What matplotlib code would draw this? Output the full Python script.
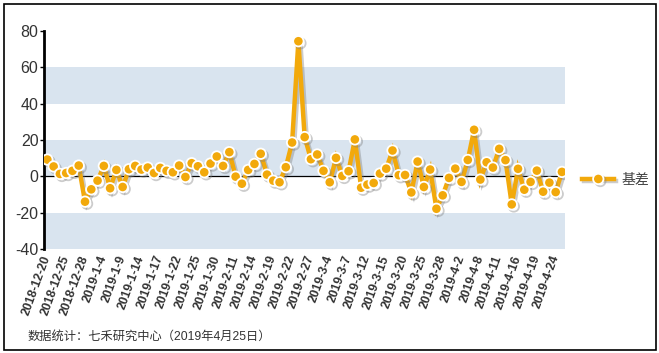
import matplotlib
matplotlib.use('Agg')
import matplotlib.pyplot as plt
import matplotlib.patheffects as pe
from matplotlib.patches import Rectangle

plt.rcParams['font.family'] = ['Liberation Sans', 'Noto Sans CJK SC']

dates = ['2018-12-20', '2018-12-21', '2018-12-24', '2018-12-25', '2018-12-26', '2018-12-27', '2018-12-28',
         '2019-1-2', '2019-1-3', '2019-1-4', '2019-1-7', '2019-1-8', '2019-1-9', '2019-1-10', '2019-1-11',
         '2019-1-14', '2019-1-15', '2019-1-16', '2019-1-17', '2019-1-18', '2019-1-21', '2019-1-22',
         '2019-1-23', '2019-1-24', '2019-1-25', '2019-1-28', '2019-1-29', '2019-1-30', '2019-1-31',
         '2019-2-1', '2019-2-11', '2019-2-12', '2019-2-13', '2019-2-14', '2019-2-15', '2019-2-18',
         '2019-2-19', '2019-2-20', '2019-2-21', '2019-2-22', '2019-2-25', '2019-2-26', '2019-2-27',
         '2019-2-28', '2019-3-1', '2019-3-4', '2019-3-5', '2019-3-6', '2019-3-7', '2019-3-8',
         '2019-3-11', '2019-3-12', '2019-3-13', '2019-3-14', '2019-3-15', '2019-3-18', '2019-3-19',
         '2019-3-20', '2019-3-21', '2019-3-22', '2019-3-25', '2019-3-26', '2019-3-27', '2019-3-28',
         '2019-3-29', '2019-4-1', '2019-4-2', '2019-4-3', '2019-4-4', '2019-4-8', '2019-4-9',
         '2019-4-10', '2019-4-11', '2019-4-12', '2019-4-15', '2019-4-16', '2019-4-17', '2019-4-18',
         '2019-4-19', '2019-4-22', '2019-4-23', '2019-4-24', '2019-4-25']

basis = [9.2, 5.4, 1.3, 1.8, 3.0, 5.9, -14.0, -7.2, -2.4, 5.7, -6.6, 3.5, -5.9, 3.9, 5.7,
         3.7, 4.8, 1.8, 4.6, 3.0, 2.2, 5.9, -0.4, 7.2, 5.5, 2.2, 7.0, 10.9, 5.7,
         13.3, -0.2, -4.1, 3.5, 6.8, 12.4, 0.9, -2.4, -3.3, 5.0, 18.6, 74.4, 21.6, 9.4,
         12.0, 3.0, -3.3, 10.1, 0.2, 2.8, 20.3, -6.3, -4.6, -3.7, 1.5, 4.2, 14.2, 0.6,
         0.7, -8.9, 8.1, -5.9, 3.7, -17.9, -10.5, -0.9, 4.2, -3.1, 9.0, 25.6, -1.8, 7.7,
         4.8, 15.1, 8.9, -15.5, 4.1, -7.4, -3.1, 3.1, -8.5, -3.5, -8.7, 2.4]

yticks = [-40, -20, 0, 20, 40, 60, 80]
bands = [(-40, -20), (0, 20), (40, 60)]

orange = '#F2A90B'
x = list(range(len(basis)))

fig = plt.figure(figsize=(6.59, 3.53), dpi=100)
ax = fig.add_axes([0.0668, 0.295, 0.7905, 0.617])

for lo, hi in bands:
    ax.axhspan(lo, hi, color='#D9E4EF', lw=0, zorder=0)
ax.axhline(0, color='black', lw=0.9, zorder=1)

ax.plot(x, basis, color=orange, lw=3.2, marker='o', markersize=7.5,
        markerfacecolor=orange, markeredgecolor='white', markeredgewidth=1.3,
        label='基差', zorder=3, solid_joinstyle='miter',
        path_effects=[pe.SimpleLineShadow(offset=(1.5, -1.5), shadow_color='gray', alpha=0.4),
                      pe.Normal()])

ax.set_xlim(-0.53, len(basis) - 0.52)
ax.set_ylim(-40, 80)
ax.set_yticks(yticks)
ax.set_yticklabels([str(v) for v in yticks], fontsize=11.5, color='#333333')
ax.tick_params(axis='y', length=3, width=1, pad=1, colors='black', labelcolor='#333333')

ax.set_xticks(x[::3])
ax.set_xticklabels(dates[::3], fontsize=8.8, fontweight='bold', color='#333333')
plt.setp(ax.get_xticklabels(), rotation=70, ha='right', va='center', rotation_mode='anchor')
ax.tick_params(axis='x', length=0, pad=5)

for s in ['top', 'right', 'bottom']:
    ax.spines[s].set_visible(False)
ax.spines['left'].set_linewidth(2)

lg = ax.legend(loc='center left', bbox_to_anchor=(1.02, 0.317), frameon=False,
               handlelength=2.3, handletextpad=0.5, borderpad=0, prop={'size': 10})
for t in lg.get_texts():
    t.set_color('#444444')

fig.text(0.042, 0.038, '数据统计：七禾研究中心（2019年4月25日）', fontsize=8.8, color='#333333')

fig.patches.append(Rectangle((3.5 / 659, 3.5 / 353), 652 / 659, 346 / 353, transform=fig.transFigure,
                             fill=False, edgecolor='black', lw=1.2))

fig.savefig('out.png', dpi=100)
